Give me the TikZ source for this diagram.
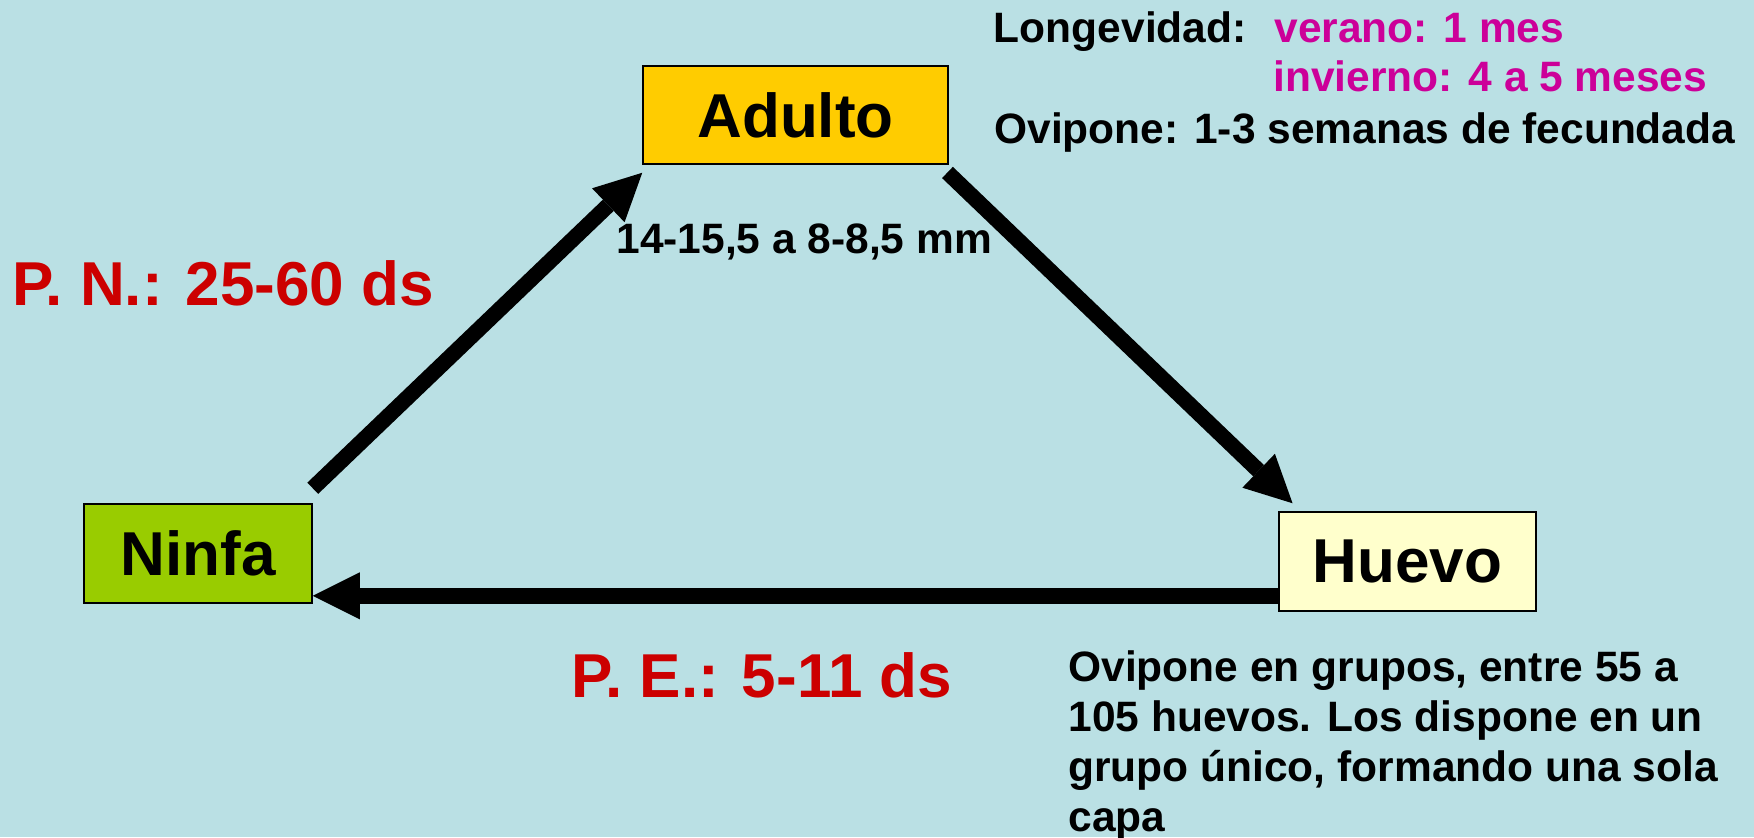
\documentclass[tikz,border=0pt]{standalone}
\usepackage{fontspec}
\setmainfont{Liberation Sans}
\usetikzlibrary{arrows.meta}
\definecolor{bgc}{RGB}{186,224,228}
\definecolor{redt}{HTML}{CC0000}
\definecolor{magt}{HTML}{CC0099}
\definecolor{adultc}{HTML}{FFCC00}
\definecolor{ninfac}{HTML}{99CC00}
\definecolor{huevoc}{HTML}{FFFFCC}
\tikzset{
  stagebox/.style={draw=black, line width=0.75pt, inner sep=0pt,
    font=\fontsize{31pt}{37pt}\selectfont\bfseries},
  bigred/.style={inner sep=0pt, anchor=base west, text=redt,
    font=\fontsize{31pt}{37pt}\selectfont\bfseries},
  small/.style={inner sep=0pt, anchor=base west,
    font=\fontsize{21.25pt}{25pt}\selectfont\bfseries},
  cyclearrow/.style={line width=7.8pt,
    -{Triangle[length=23.5pt, width=23.5pt, line width=0pt]}}
}
\begin{document}
\begin{tikzpicture}[x=0.5pt, y=-0.5pt]
\fill[bgc] (0,0) rectangle (1754,837);
\useasboundingbox (0,0) rectangle (1754,837);

\node[stagebox, fill=adultc, minimum width=152.5pt, minimum height=49pt] (adulto) at (795.5,115) {Adulto};
\node[stagebox, fill=ninfac, minimum width=114pt, minimum height=49.5pt] (ninfa) at (198,553.5) {Ninfa};
\node[stagebox, fill=huevoc, minimum width=128.5pt, minimum height=49.5pt] (huevo) at (1407.5,561.5) {Huevo};

\draw[cyclearrow] ([yshift=7.5pt]ninfa.north east) -- ([yshift=-4pt]adulto.south west);
\draw[cyclearrow] ([xshift=-0.65pt, yshift=-3.85pt]adulto.south east) -- ([xshift=7.15pt, yshift=4pt]huevo.north west);
\draw[cyclearrow] ([yshift=8pt]huevo.south west) -- ([yshift=4pt]ninfa.south east);

\node[bigred] (pn) at (12,305) {P. N.: 25-60 ds};
\node[bigred] (pe) at (571.5,697.3) {P. E.: 5-11 ds};
\node[small] (size) at (616,253) {14-15,5 a 8-8,5 mm};

\node[small] (longev) at (993.5,42.3) {Longevidad:};
\node[small, text=magt] (verano) at (1274,42.3) {verano: 1 mes};
\node[small, text=magt] (invierno) at (1273,91.7) {invierno: 4 a 5 meses};
\node[small] (ovip) at (994,143.3) {Ovipone: 1-3 semanas de fecundada};

\node[small, align=left] (huevos) at (1068,831) {Ovipone en grupos, entre 55 a\\105 huevos. Los dispone en un\\grupo único, formando una sola\\capa};
\end{tikzpicture}
\end{document}
